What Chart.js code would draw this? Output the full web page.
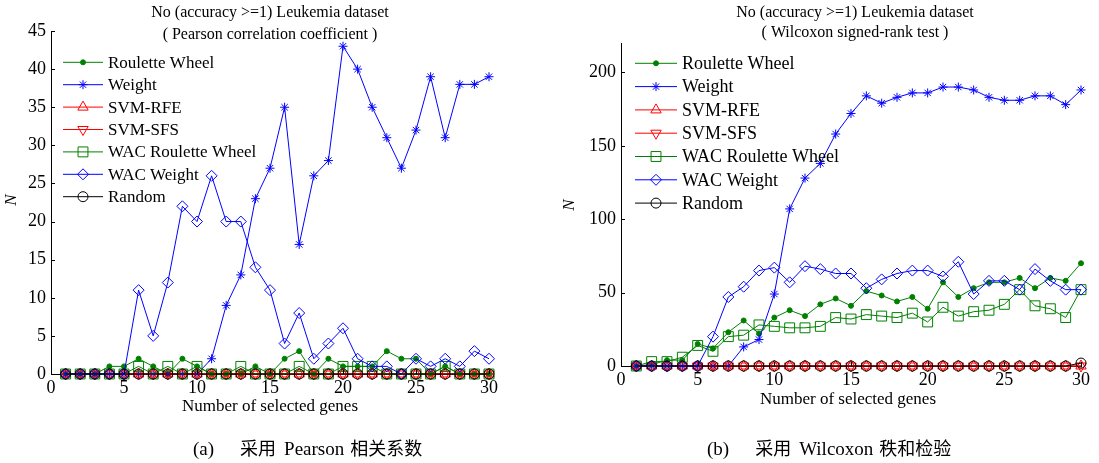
<!DOCTYPE html>
<html>
<head>
<meta charset="utf-8">
<script src="https://cdn.jsdelivr.net/npm/chart.js@4/dist/chart.umd.min.js"></script>
<style>
  body { margin: 0; background: #fff; width: 1099px; height: 463px; overflow: hidden; position: relative; }
  canvas { position: absolute; top: 0; }
  #left { left: 0; }
  #right { left: 550px; }
  .cap { position: absolute; top: 434px; height: 24px; line-height: 24px; color: #000; white-space: nowrap; }
  .cap .lt { font: 19px 'Liberation Serif', serif; }
  .cap .cj { font: 18px 'Noto Sans CJK SC', sans-serif; }
</style>
</head>
<body>
<canvas id="left" width="550" height="463"></canvas>
<canvas id="right" width="549" height="463"></canvas>
<div class="cap" style="left:193px"><span class="lt" style="margin-right:26px">(a)</span><span class="cj">采用</span><span class="lt" style="margin:0 6px 0 8px">Pearson</span><span class="cj">相关系数</span></div>
<div class="cap" style="left:707px"><span class="lt" style="margin-right:26px">(b)</span><span class="cj">采用</span><span class="lt" style="margin:0 6px 0 8px">Wilcoxon</span><span class="cj">秩和检验</span></div>
<script>
const genes = [1, 2, 3, 4, 5, 6, 7, 8, 9, 10, 11, 12, 13, 14, 15, 16, 17, 18, 19, 20, 21, 22, 23, 24, 25, 26, 27, 28, 29, 30];
const xTicks = [0, 5, 10, 15, 20, 25, 30];
const leftYTicks = [0, 5, 10, 15, 20, 25, 30, 35, 40, 45];
const rightYTicks = [0, 50, 100, 150, 200];

// (a) Pearson
const pRoulette = [0, 0, 0, 1, 1, 2, 1, 0, 2, 1, 0, 0, 0, 1, 0, 2, 3, 0, 2, 1, 1, 1, 3, 2, 2, 0, 1, 0, 0, 0];
const pWeight = [0, 0, 0, 0, 0, 0, 0, 0, 0, 0, 2, 9, 13, 23, 27, 35, 17, 26, 28, 43, 40, 35, 31, 27, 32, 39, 31, 38, 38, 39];
const pSvmRfe = [0, 0, 0, 0, 0, 0, 0, 0, 0, 0, 0, 0, 0, 0, 0, 0, 0, 0, 0, 0, 0, 0, 0, 0, 0, 0, 0, 0, 0, 0];
const pSvmSfs = [0, 0, 0, 0, 0, 0, 0, 0, 0, 0, 0, 0, 0, 0, 0, 0, 0, 0, 0, 0, 0, 0, 0, 0, 0, 0, 0, 0, 0, 0];
const pWacRoulette = [0, 0, 0, 0, 0, 1, 0, 1, 0, 1, 0, 0, 1, 0, 0, 0, 1, 0, 0, 1, 1, 1, 0, 0, 0, 0, 1, 0, 0, 0];
const pWacWeight = [0, 0, 0, 0, 0, 11, 5, 12, 22, 20, 26, 20, 20, 14, 11, 4, 8, 2, 4, 6, 2, 1, 1, 0, 2, 1, 2, 1, 3, 2];
const pRandom = [0, 0, 0, 0, 0, 0, 0, 0, 0, 0, 0, 0, 0, 0, 0, 0, 0, 0, 0, 0, 0, 0, 0, 0, 0, 0, 0, 0, 0, 0];

// (b) Wilcoxon
const wRoulette = [0, 1, 4, 4, 15, 12, 23, 31, 22, 33, 38, 34, 42, 46, 41, 51, 48, 44, 47, 39, 57, 47, 53, 57, 57, 60, 53, 60, 58, 70];
const wWeight = [0, 0, 0, 0, 0, 0, 0, 13, 18, 49, 107, 128, 138, 158, 172, 184, 179, 183, 186, 186, 190, 190, 188, 183, 181, 181, 184, 184, 178, 188];
const wSvmRfe = [0, 0, 0, 0, 0, 0, 0, 0, 0, 0, 0, 0, 0, 0, 0, 0, 0, 0, 0, 0, 0, 0, 0, 0, 0, 0, 0, 0, 0, 0];
const wSvmSfs = [0, 0, 0, 0, 0, 0, 0, 0, 0, 0, 0, 0, 0, 0, 0, 0, 0, 0, 0, 0, 0, 0, 0, 0, 0, 0, 0, 0, 0, 0];
const wWacRoulette = [0, 3, 3, 6, 14, 10, 20, 21, 28, 27, 26, 26, 27, 33, 32, 35, 34, 33, 36, 30, 40, 34, 37, 38, 42, 52, 41, 39, 33, 52];
const wWacWeight = [0, 0, 0, 0, 0, 20, 47, 54, 65, 67, 57, 68, 66, 63, 63, 53, 59, 63, 65, 65, 61, 71, 49, 58, 58, 52, 66, 58, 52, 52];
const wRandom = [0, 0, 0, 0, 0, 0, 0, 0, 0, 0, 0, 0, 0, 0, 0, 0, 0, 0, 0, 0, 0, 0, 0, 0, 0, 0, 0, 0, 0, 2];

const seriesNames = ['Roulette Wheel', 'Weight', 'SVM-RFE', 'SVM-SFS', 'WAC Roulette Wheel', 'WAC Weight', 'Random'];

// marker look for each series, MATLAB-ish
const looks = [
  { color: '#008000', style: 'circle', radius: 2.5, fill: true },
  { color: '#0000ff', style: 'star', radius: 4.5 },
  { color: '#ff0000', style: 'triangle', radius: 6 },
  { color: '#ff0000', style: 'triangle', radius: 6, rotation: 180 },
  { color: '#008000', style: 'rect', radius: 7 },
  { color: '#0000ff', style: 'rectRot', radius: 5.5 },
  { color: '#000000', style: 'circle', radius: 5 },
];

const FONT = "'Liberation Serif', 'Times New Roman', serif";
Chart.defaults.font.family = FONT;
Chart.defaults.color = '#000';

function makeDatasets(lists) {
  return lists.map((vals, i) => {
    const lk = looks[i];
    return {
      label: seriesNames[i],
      data: genes.map((g, j) => ({ x: g, y: vals[j] })),
      borderColor: lk.color,
      borderWidth: 1,
      pointStyle: lk.style,
      pointRadius: lk.radius,
      pointRotation: lk.rotation || 0,
      pointBorderColor: lk.color,
      pointBackgroundColor: lk.fill ? lk.color : 'rgba(0,0,0,0)',
      pointBorderWidth: 1,
      order: lists.length - i,
      clip: false,
    };
  });
}

const innerTicks = {
  id: 'innerTicks',
  afterDraw(chart) {
    const { ctx, chartArea: a, scales: { x, y } } = chart;
    ctx.save();
    ctx.strokeStyle = '#000';
    ctx.lineWidth = 1;
    ctx.beginPath();
    x.ticks.forEach(t => {
      const px = Math.round(x.getPixelForValue(t.value)) + 0.5;
      ctx.moveTo(px, a.bottom);
      ctx.lineTo(px, a.bottom - 4);
    });
    y.ticks.forEach(t => {
      const py = Math.round(y.getPixelForValue(t.value)) + 0.5;
      ctx.moveTo(a.left, py);
      ctx.lineTo(a.left + 4, py);
    });
    ctx.stroke();
    ctx.restore();
  }
};

const texts = {
  id: 'texts',
  afterDraw(chart, args, o) {
    const ctx = chart.ctx;
    ctx.save();
    ctx.fillStyle = '#000';
    ctx.textBaseline = 'middle';
    // titles
    ctx.textAlign = 'center';
    ctx.font = o.titleSize + 'px ' + FONT;
    o.title.forEach((line, i) => ctx.fillText(line, o.titleX, o.titleY[i]));
    ctx.font = o.axisSize + 'px ' + FONT;
    ctx.fillText('Number of selected genes', o.xTitle[0], o.xTitle[1]);
    ctx.save();
    ctx.translate(o.yTitle[0], o.yTitle[1]);
    ctx.rotate(-Math.PI / 2);
    ctx.font = 'italic ' + o.axisSize + 'px ' + FONT;
    ctx.fillText('N', 0, 0);
    ctx.restore();
    // legend
    const lg = o.legend;
    ctx.font = lg.size + 'px ' + FONT;
    ctx.textAlign = 'left';
    chart.data.datasets.forEach((ds, i) => {
      const y = lg.top + i * lg.step;
      ctx.strokeStyle = ds.borderColor;
      ctx.lineWidth = 1;
      ctx.beginPath();
      ctx.moveTo(lg.left, y);
      ctx.lineTo(lg.left + lg.len, y);
      ctx.stroke();
      ctx.fillStyle = ds.pointBackgroundColor;
      Chart.helpers.drawPoint(ctx, {
        pointStyle: ds.pointStyle,
        rotation: ds.pointRotation,
        radius: ds.pointRadius,
        borderWidth: 1,
      }, lg.left + lg.len / 2, y);
      ctx.fillStyle = '#000';
      ctx.fillText(ds.label, lg.textX, y + 1);
    });
    ctx.restore();
  }
};

function buildChart(id, lists, yTicks, yMax, geo) {
  const tickFont = { size: geo.tickSize, family: FONT };
  new Chart(document.getElementById(id), {
    type: 'line',
    data: { datasets: makeDatasets(lists) },
    options: {
      responsive: false,
      animation: false,
      layout: { padding: geo.padding },
      plugins: {
        legend: { display: false },
        tooltip: { enabled: false },
        texts: geo.texts,
      },
      scales: {
        x: {
          type: 'linear',
          min: 0,
          max: 30,
          afterBuildTicks: s => { s.ticks = xTicks.map(v => ({ value: v })); },
          afterFit: s => { s.height = 30; },
          grid: { display: false, drawTicks: false },
          border: { color: '#000', width: 1 },
          ticks: { font: tickFont, padding: 3, maxRotation: 0, color: '#000' },
        },
        y: {
          min: 0,
          max: yMax,
          afterBuildTicks: s => { s.ticks = yTicks.map(v => ({ value: v })); },
          afterFit: s => { s.width = geo.yWidth; },
          grid: { display: false, drawTicks: false },
          border: { color: '#000', width: 1 },
          ticks: { font: tickFont, padding: 5, color: '#000' },
        },
      },
    },
    plugins: [innerTicks, texts],
  });
}

buildChart('left', [pRoulette, pWeight, pSvmRfe, pSvmSfs, pWacRoulette, pWacWeight, pRandom], leftYTicks, 45, {
  padding: { left: 0, top: 31, right: 61, bottom: 59 },
  yWidth: 51,
  tickSize: 18,
  texts: {
    title: ['No (accuracy >=1) Leukemia dataset', '( Pearson correlation coefficient )'],
    titleX: 270, titleY: [13, 35], titleSize: 16,
    xTitle: [270, 407], yTitle: [12, 200], axisSize: 17,
    legend: { left: 63, len: 40, textX: 108, top: 62.3, step: 22.4, size: 17 },
  },
});

buildChart('right', [wRoulette, wWeight, wSvmRfe, wSvmSfs, wWacRoulette, wWacWeight, wRandom], rightYTicks, 220, {
  padding: { left: 0, top: 43, right: 18, bottom: 67 },
  yWidth: 71,
  tickSize: 18,
  texts: {
    title: ['No (accuracy >=1) Leukemia dataset', '( Wilcoxon signed-rank test )'],
    titleX: 305, titleY: [13, 33], titleSize: 16,
    xTitle: [298, 400], yTitle: [20, 205], axisSize: 17,
    legend: { left: 85, len: 42, textX: 132, top: 63.3, step: 23.3, size: 18 },
  },
});
</script>
</body>
</html>
